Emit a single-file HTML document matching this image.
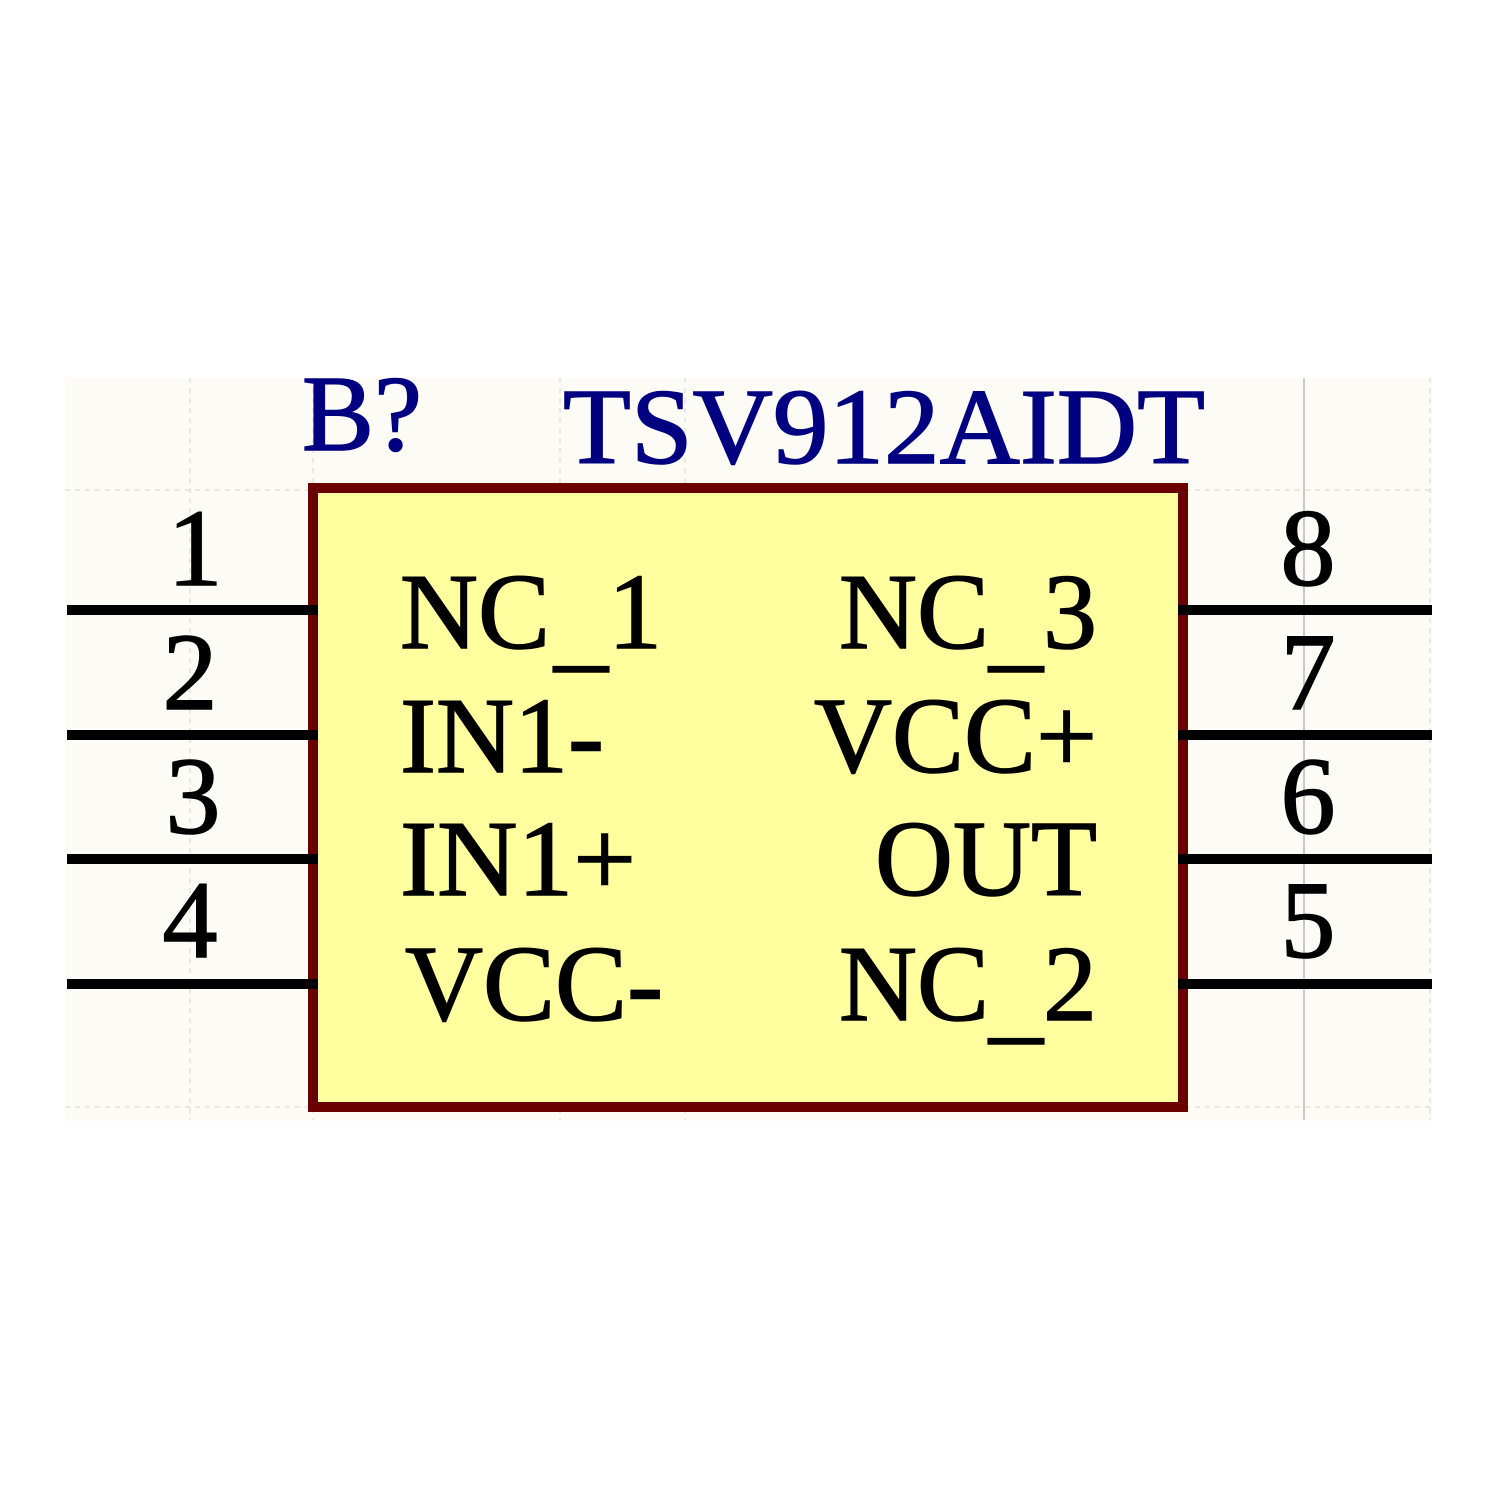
<!DOCTYPE html>
<html><head><style>html,body{margin:0;padding:0;background:#fff}</style></head>
<body>
<svg width="1500" height="1500" xmlns="http://www.w3.org/2000/svg" font-family="Liberation Serif, serif">
<rect width="1500" height="1500" fill="#fff"/>
<rect x="65" y="378" width="1367" height="743" fill="#fdfbf5"/>
<g stroke="#e6e2da" stroke-width="1.5" stroke-dasharray="5,5">
<line x1="190" y1="378" x2="190" y2="1120"/>
<line x1="313" y1="378" x2="313" y2="1120"/>
<line x1="560" y1="378" x2="560" y2="1120"/>
<line x1="685" y1="378" x2="685" y2="1120"/>
<line x1="1430" y1="378" x2="1430" y2="1120"/>
<line x1="65" y1="490" x2="1432" y2="490"/>
<line x1="65" y1="1107" x2="1432" y2="1107"/>
</g>
<line x1="1304" y1="378" x2="1304" y2="1120" stroke="#c8c8c8" stroke-width="2"/>
<rect x="313" y="488" width="870" height="619" fill="#ffff9f" stroke="#6b0000" stroke-width="10"/>
<g stroke="#000" stroke-width="10">
<line x1="67" y1="610" x2="318" y2="610"/>
<line x1="67" y1="735" x2="318" y2="735"/>
<line x1="67" y1="859" x2="318" y2="859"/>
<line x1="67" y1="984" x2="318" y2="984"/>
<line x1="1178" y1="610" x2="1432" y2="610"/>
<line x1="1178" y1="735" x2="1432" y2="735"/>
<line x1="1178" y1="859" x2="1432" y2="859"/>
<line x1="1178" y1="984" x2="1432" y2="984"/>
</g>
<g fill="#000080" stroke="#000080" stroke-width="1.5" font-size="108">
<text x="302" y="450" textLength="120" lengthAdjust="spacingAndGlyphs">B?</text>
<text x="563" y="463" textLength="642" lengthAdjust="spacingAndGlyphs">TSV912AIDT</text>
</g>
<g fill="#000" stroke="#000" stroke-width="1.5" font-size="110" text-anchor="middle">
<text x="195" y="585">1</text>
<text x="190" y="709">2</text>
<text x="193" y="833">3</text>
<text x="190" y="957">4</text>
<text x="1308" y="585">8</text>
<text x="1308" y="709">7</text>
<text x="1308" y="833">6</text>
<text x="1308" y="957">5</text>
</g>
<g fill="#000" stroke="#000" stroke-width="1.5" font-size="108">
<text x="400" y="648">NC<tspan dx="4" dy="10">_</tspan><tspan dy="-10">1</tspan></text>
<text x="400" y="772">IN1-</text>
<text x="400" y="895" textLength="236" lengthAdjust="spacingAndGlyphs">IN1+</text>
<text x="405" y="1020">VCC-</text>
</g>
<g fill="#000" stroke="#000" stroke-width="1.5" font-size="108" text-anchor="end">
<text x="1097" y="648">NC<tspan dy="10">_</tspan><tspan dy="-10">3</tspan></text>
<text x="1097" y="772">VCC+</text>
<text x="1097" y="895">OUT</text>
<text x="1097" y="1020">NC<tspan dy="10">_</tspan><tspan dy="-10">2</tspan></text>
</g>
</svg>
</body></html>
